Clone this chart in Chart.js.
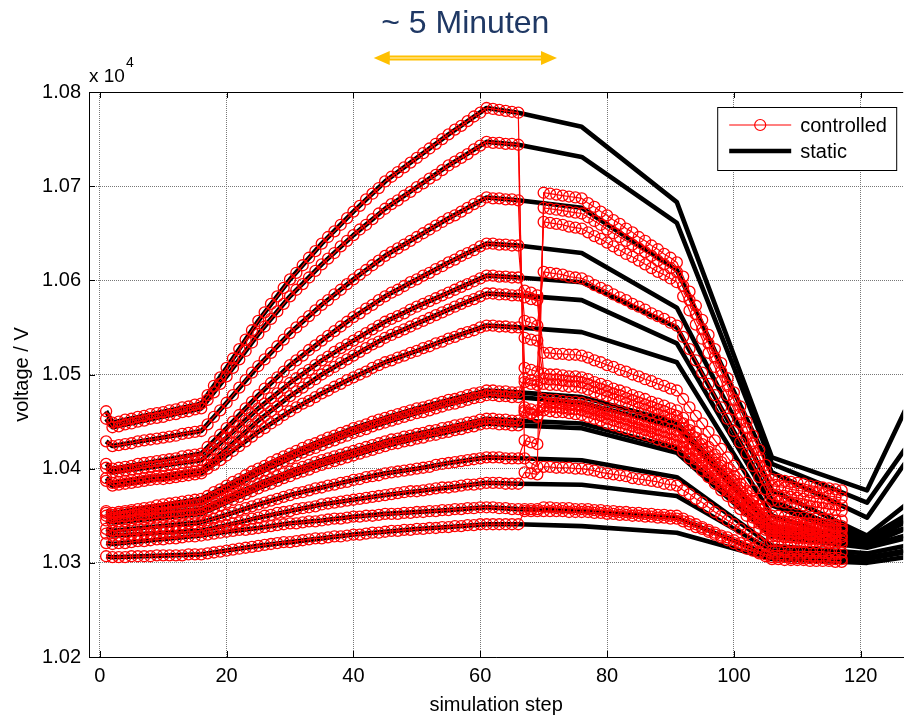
<!DOCTYPE html>
<html>
<head>
<meta charset="utf-8">
<script src="https://cdn.jsdelivr.net/npm/chart.js@4/dist/chart.umd.min.js"></script>
<style>
  body { margin: 0; background: #fff; }
  canvas { display: block; }
</style>
</head>
<body>
<canvas id="chart" width="910" height="716"></canvas>
<script>
// simulation steps where the static profiles change slope
const stepKnots = [1, 2, 16, 20, 25, 30, 35, 40, 45, 50, 55, 61, 66, 76, 91, 106, 121, 127];

// static voltages (V) at stepKnots, one array per node
const static01 = [10461, 10449, 10469, 10507, 10557, 10601, 10639, 10673, 10705, 10730, 10755, 10783, 10778, 10763, 10683, 10412, 10377, 10462];
const static02 = [10453, 10444, 10464, 10498, 10543, 10583, 10617, 10648, 10676, 10699, 10722, 10747, 10744, 10731, 10661, 10405, 10364, 10421];
const static03 = [10429, 10424, 10440, 10470, 10509, 10544, 10574, 10601, 10626, 10646, 10666, 10688, 10685, 10677, 10611, 10396, 10348, 10406];
const static04 = [10405, 10400, 10416, 10443, 10478, 10510, 10536, 10561, 10583, 10601, 10619, 10639, 10637, 10629, 10571, 10377, 10329, 10361];
const static05 = [10401, 10396, 10409, 10433, 10464, 10491, 10515, 10536, 10556, 10572, 10587, 10605, 10603, 10598, 10550, 10366, 10326, 10350];
const static06 = [10390, 10385, 10398, 10421, 10451, 10477, 10500, 10520, 10539, 10554, 10569, 10586, 10584, 10579, 10533, 10361, 10323, 10343];
const static07 = [10387, 10382, 10395, 10414, 10439, 10461, 10480, 10497, 10513, 10525, 10538, 10552, 10550, 10545, 10513, 10350, 10319, 10336];
const static08 = [10355, 10353, 10368, 10382, 10400, 10416, 10430, 10443, 10454, 10464, 10473, 10483, 10481, 10476, 10449, 10339, 10326, 10345];
const static09 = [10353, 10351, 10363, 10377, 10395, 10411, 10425, 10438, 10449, 10459, 10468, 10478, 10476, 10470, 10444, 10336, 10323, 10337];
const static10 = [10350, 10348, 10357, 10369, 10384, 10397, 10409, 10419, 10429, 10437, 10444, 10453, 10451, 10448, 10422, 10331, 10318, 10329];
const static11 = [10345, 10343, 10352, 10364, 10379, 10392, 10404, 10414, 10424, 10432, 10439, 10448, 10446, 10443, 10417, 10328, 10316, 10326];
const static12 = [10336, 10334, 10343, 10351, 10362, 10372, 10380, 10388, 10395, 10400, 10406, 10412, 10411, 10409, 10391, 10318, 10310, 10318];
const static13 = [10331, 10329, 10334, 10340, 10348, 10355, 10362, 10367, 10372, 10376, 10380, 10385, 10384, 10383, 10371, 10313, 10306, 10313];
const static14 = [10321, 10320, 10329, 10333, 10337, 10342, 10345, 10349, 10352, 10354, 10356, 10359, 10357, 10355, 10348, 10307, 10304, 10311];
const static15 = [10307, 10306, 10309, 10313, 10318, 10322, 10326, 10330, 10333, 10336, 10338, 10341, 10341, 10339, 10332, 10304, 10300, 10306];

// controlled voltages (V), one value per simulation step 1..117
const controlled01 = [10461,
  10449, 10450, 10452, 10453, 10455, 10456, 10458, 10459, 10460, 10462, 10463, 10465, 10466, 10468, 10469,
  10478, 10488, 10497, 10507, 10517, 10527, 10537, 10547, 10557, 10566, 10575, 10583, 10592, 10601,
  10608, 10616, 10624, 10631, 10639, 10646, 10652, 10659, 10666, 10673, 10679, 10686, 10692, 10698, 10705,
  10710, 10715, 10720, 10725, 10730, 10735, 10740, 10745, 10750, 10755, 10760, 10764, 10769, 10774, 10778, 10783,
  10782, 10781, 10780, 10779, 10778,
  10411, 10406, 10402,
  10693, 10692, 10691, 10690, 10689, 10688, 10687,
  10682, 10678, 10673, 10669, 10664, 10660, 10655, 10651, 10646, 10642, 10637, 10633, 10628, 10624, 10619,
  10604, 10588, 10573, 10558, 10542, 10527, 10512, 10496, 10481, 10466, 10450, 10435, 10420, 10404, 10389,
  10388, 10387, 10386, 10385, 10384, 10382, 10381, 10380, 10379, 10378, 10377];
const controlled02 = [10453,
  10444, 10445, 10447, 10448, 10450, 10451, 10453, 10454, 10455, 10457, 10458, 10460, 10461, 10463, 10464,
  10473, 10481, 10490, 10498, 10507, 10516, 10525, 10534, 10543, 10551, 10559, 10567, 10575, 10583,
  10590, 10596, 10603, 10610, 10617, 10623, 10629, 10636, 10642, 10648, 10654, 10659, 10665, 10671, 10676,
  10681, 10685, 10690, 10694, 10699, 10703, 10708, 10712, 10717, 10722, 10726, 10730, 10734, 10739, 10743, 10747,
  10746, 10746, 10745, 10745, 10744,
  10462, 10459, 10455,
  10677, 10676, 10675, 10674, 10673, 10672, 10671,
  10667, 10663, 10659, 10654, 10650, 10646, 10642, 10638, 10634, 10630, 10626, 10621, 10617, 10613, 10609,
  10594, 10579, 10564, 10548, 10533, 10518, 10503, 10488, 10473, 10458, 10443, 10427, 10412, 10397, 10382,
  10381, 10380, 10378, 10377, 10376, 10375, 10374, 10373, 10371, 10370, 10369];
const controlled03 = [10429,
  10424, 10425, 10426, 10427, 10429, 10430, 10431, 10432, 10433, 10434, 10435, 10437, 10438, 10439, 10440,
  10447, 10455, 10462, 10470, 10478, 10486, 10494, 10502, 10509, 10516, 10523, 10530, 10537, 10544,
  10550, 10556, 10562, 10568, 10574, 10579, 10585, 10590, 10596, 10601, 10606, 10611, 10616, 10621, 10626,
  10630, 10634, 10638, 10642, 10646, 10650, 10654, 10658, 10662, 10666, 10669, 10673, 10677, 10681, 10684, 10688,
  10687, 10687, 10686, 10686, 10685,
  10507, 10505, 10503,
  10662, 10661, 10660, 10659, 10657, 10656, 10655,
  10651, 10647, 10644, 10640, 10636, 10632, 10628, 10625, 10621, 10617, 10613, 10609, 10606, 10602, 10598,
  10583, 10568, 10553, 10538, 10523, 10508, 10493, 10478, 10463, 10448, 10433, 10418, 10403, 10388, 10373,
  10372, 10371, 10370, 10369, 10368, 10366, 10365, 10364, 10363, 10362, 10361];
const controlled04 = [10405,
  10400, 10401, 10402, 10403, 10405, 10406, 10407, 10408, 10409, 10410, 10411, 10413, 10414, 10415, 10416,
  10423, 10429, 10436, 10443, 10450, 10457, 10464, 10471, 10478, 10485, 10491, 10497, 10503, 10510,
  10515, 10520, 10526, 10531, 10536, 10541, 10546, 10551, 10556, 10561, 10565, 10570, 10574, 10579, 10583,
  10587, 10590, 10594, 10598, 10601, 10605, 10608, 10612, 10615, 10619, 10622, 10626, 10629, 10632, 10636, 10639,
  10639, 10638, 10638, 10637, 10637,
  10557, 10555, 10552,
  10609, 10608, 10607, 10606, 10604, 10603, 10602,
  10599, 10595, 10592, 10589, 10585, 10582, 10579, 10575, 10572, 10569, 10565, 10562, 10559, 10555, 10552,
  10540, 10527, 10515, 10502, 10490, 10478, 10465, 10453, 10440, 10428, 10416, 10403, 10391, 10378, 10366,
  10365, 10364, 10363, 10362, 10361, 10360, 10359, 10358, 10357, 10356, 10355];
const controlled05 = [10401,
  10396, 10397, 10398, 10399, 10400, 10401, 10402, 10403, 10403, 10404, 10405, 10406, 10407, 10408, 10409,
  10415, 10421, 10427, 10433, 10439, 10445, 10451, 10458, 10464, 10469, 10475, 10480, 10486, 10491,
  10496, 10501, 10505, 10510, 10515, 10519, 10524, 10528, 10532, 10536, 10540, 10544, 10548, 10552, 10556,
  10559, 10562, 10565, 10569, 10572, 10575, 10578, 10581, 10584, 10587, 10590, 10593, 10596, 10599, 10602, 10605,
  10605, 10604, 10604, 10603, 10603,
  10589, 10587, 10584,
  10523, 10523, 10522, 10522, 10521, 10521, 10520,
  10518, 10515, 10513, 10510, 10508, 10505, 10503, 10500, 10498, 10495, 10493, 10490, 10488, 10485, 10483,
  10474, 10465, 10456, 10448, 10439, 10430, 10421, 10412, 10403, 10394, 10385, 10377, 10368, 10359, 10350,
  10350, 10349, 10349, 10348, 10348, 10347, 10347, 10346, 10346, 10345, 10345];
const controlled06 = [10390,
  10385, 10386, 10387, 10388, 10389, 10390, 10391, 10392, 10392, 10393, 10394, 10395, 10396, 10397, 10398,
  10404, 10409, 10415, 10421, 10427, 10433, 10439, 10445, 10451, 10456, 10461, 10466, 10472, 10477,
  10482, 10486, 10491, 10495, 10500, 10504, 10508, 10512, 10516, 10520, 10524, 10528, 10532, 10535, 10539,
  10542, 10545, 10548, 10551, 10554, 10557, 10560, 10563, 10566, 10569, 10572, 10575, 10578, 10580, 10583, 10586,
  10586, 10585, 10585, 10584, 10584,
  10582, 10580, 10579,
  10501, 10500, 10500, 10499, 10498, 10498, 10497,
  10495, 10492, 10490, 10488, 10485, 10483, 10481, 10478, 10476, 10474, 10471, 10469, 10467, 10464, 10462,
  10454, 10446, 10439, 10431, 10423, 10415, 10407, 10400, 10392, 10384, 10376, 10368, 10361, 10353, 10345,
  10344, 10344, 10343, 10343, 10342, 10342, 10341, 10341, 10340, 10340, 10339];
const controlled07 = [10387,
  10382, 10383, 10384, 10385, 10386, 10387, 10388, 10389, 10389, 10390, 10391, 10392, 10393, 10394, 10395,
  10400, 10404, 10409, 10414, 10419, 10424, 10429, 10434, 10439, 10443, 10448, 10452, 10457, 10461,
  10465, 10469, 10472, 10476, 10480, 10483, 10487, 10490, 10494, 10497, 10500, 10503, 10507, 10510, 10513,
  10515, 10518, 10520, 10523, 10525, 10528, 10530, 10533, 10535, 10538, 10540, 10543, 10545, 10547, 10550, 10552,
  10552, 10551, 10551, 10550, 10550,
  10539, 10537, 10536,
  10496, 10495, 10495, 10494, 10493, 10493, 10492,
  10490, 10487, 10485, 10482, 10480, 10478, 10475, 10473, 10470, 10468, 10466, 10463, 10461, 10458, 10456,
  10448, 10441, 10433, 10426, 10418, 10410, 10403, 10395, 10388, 10380, 10372, 10365, 10357, 10350, 10342,
  10341, 10341, 10340, 10340, 10339, 10339, 10338, 10338, 10337, 10337, 10336];
const controlled08 = [10355,
  10353, 10354, 10355, 10356, 10357, 10358, 10359, 10361, 10362, 10363, 10364, 10365, 10366, 10367, 10368,
  10371, 10375, 10378, 10382, 10386, 10389, 10393, 10397, 10400, 10403, 10407, 10410, 10413, 10416,
  10419, 10422, 10425, 10427, 10430, 10433, 10435, 10438, 10440, 10443, 10445, 10447, 10450, 10452, 10454,
  10456, 10458, 10460, 10462, 10464, 10465, 10467, 10469, 10471, 10473, 10474, 10476, 10478, 10480, 10481, 10483,
  10483, 10482, 10482, 10481, 10481,
  10496, 10494, 10493,
  10490, 10489, 10489, 10488, 10487, 10487, 10486,
  10484, 10481, 10479, 10477, 10474, 10472, 10470, 10467, 10465, 10463, 10460, 10458, 10456, 10453, 10451,
  10443, 10436, 10428, 10421, 10413, 10406, 10398, 10391, 10383, 10376, 10368, 10361, 10353, 10346, 10338,
  10338, 10337, 10337, 10337, 10336, 10336, 10335, 10335, 10335, 10334, 10334];
const controlled09 = [10353,
  10351, 10352, 10353, 10354, 10354, 10355, 10356, 10357, 10358, 10359, 10360, 10360, 10361, 10362, 10363,
  10366, 10370, 10373, 10377, 10381, 10384, 10388, 10392, 10395, 10398, 10402, 10405, 10408, 10411,
  10414, 10417, 10420, 10422, 10425, 10428, 10430, 10433, 10435, 10438, 10440, 10442, 10445, 10447, 10449,
  10451, 10453, 10455, 10457, 10459, 10460, 10462, 10464, 10466, 10468, 10469, 10471, 10473, 10475, 10476, 10478,
  10478, 10477, 10477, 10476, 10476,
  10492, 10490, 10489,
  10474, 10473, 10473, 10472, 10471, 10471, 10470,
  10468, 10466, 10464, 10462, 10460, 10458, 10456, 10454, 10452, 10450, 10448, 10446, 10444, 10442, 10440,
  10433, 10426, 10419, 10412, 10405, 10398, 10391, 10383, 10376, 10369, 10362, 10355, 10348, 10341, 10334,
  10334, 10333, 10333, 10332, 10332, 10331, 10331, 10330, 10330, 10329, 10329];
const controlled10 = [10350,
  10348, 10349, 10349, 10350, 10351, 10351, 10352, 10353, 10353, 10354, 10354, 10355, 10356, 10356, 10357,
  10360, 10363, 10366, 10369, 10372, 10375, 10378, 10381, 10384, 10387, 10389, 10392, 10395, 10397,
  10400, 10402, 10404, 10407, 10409, 10411, 10413, 10415, 10417, 10419, 10421, 10423, 10425, 10427, 10429,
  10431, 10432, 10434, 10435, 10437, 10438, 10440, 10441, 10443, 10444, 10446, 10447, 10449, 10450, 10452, 10453,
  10453, 10452, 10452, 10451, 10451,
  10465, 10463, 10462,
  10470, 10469, 10469, 10468, 10467, 10467, 10466,
  10464, 10462, 10460, 10458, 10456, 10454, 10452, 10449, 10447, 10445, 10443, 10441, 10439, 10437, 10435,
  10428, 10421, 10414, 10407, 10400, 10393, 10386, 10380, 10373, 10366, 10359, 10352, 10345, 10338, 10331,
  10331, 10330, 10330, 10330, 10329, 10329, 10328, 10328, 10328, 10327, 10327];
const controlled11 = [10345,
  10343, 10344, 10344, 10345, 10346, 10346, 10347, 10348, 10348, 10349, 10349, 10350, 10351, 10351, 10352,
  10355, 10358, 10361, 10364, 10367, 10370, 10373, 10376, 10379, 10382, 10384, 10387, 10390, 10392,
  10395, 10397, 10399, 10402, 10404, 10406, 10408, 10410, 10412, 10414, 10416, 10418, 10420, 10422, 10424,
  10426, 10427, 10429, 10430, 10432, 10433, 10435, 10436, 10438, 10439, 10441, 10442, 10444, 10445, 10447, 10448,
  10448, 10447, 10447, 10446, 10446,
  10460, 10458, 10456,
  10466, 10465, 10465, 10464, 10463, 10463, 10462,
  10460, 10458, 10456, 10453, 10451, 10449, 10447, 10445, 10443, 10441, 10439, 10436, 10434, 10432, 10430,
  10423, 10416, 10410, 10403, 10396, 10389, 10382, 10376, 10369, 10362, 10355, 10348, 10342, 10335, 10328,
  10328, 10327, 10327, 10326, 10326, 10325, 10325, 10324, 10324, 10323, 10323];
const controlled12 = [10336,
  10334, 10335, 10335, 10336, 10337, 10337, 10338, 10339, 10339, 10340, 10340, 10341, 10342, 10342, 10343,
  10345, 10347, 10349, 10351, 10353, 10356, 10358, 10360, 10362, 10364, 10366, 10368, 10370, 10372,
  10374, 10375, 10377, 10379, 10380, 10382, 10383, 10385, 10386, 10388, 10389, 10391, 10392, 10393, 10395,
  10396, 10397, 10398, 10399, 10400, 10401, 10402, 10404, 10405, 10406, 10407, 10408, 10409, 10410, 10411, 10412,
  10412, 10412, 10411, 10411, 10411,
  10430, 10428, 10426,
  10462, 10461, 10460, 10460, 10459, 10458, 10457,
  10455, 10453, 10451, 10448, 10446, 10444, 10442, 10440, 10438, 10436, 10434, 10431, 10429, 10427, 10425,
  10418, 10411, 10405, 10398, 10391, 10384, 10377, 10371, 10364, 10357, 10350, 10343, 10337, 10330, 10323,
  10323, 10322, 10322, 10322, 10322, 10321, 10321, 10321, 10321, 10320, 10320];
const controlled13 = [10331,
  10329, 10329, 10330, 10330, 10330, 10331, 10331, 10332, 10332, 10332, 10333, 10333, 10333, 10334, 10334,
  10336, 10337, 10339, 10340, 10342, 10343, 10345, 10347, 10348, 10350, 10351, 10353, 10354, 10355,
  10357, 10358, 10359, 10360, 10362, 10363, 10364, 10365, 10366, 10367, 10368, 10369, 10370, 10371, 10372,
  10373, 10374, 10375, 10376, 10376, 10377, 10378, 10379, 10380, 10380, 10381, 10382, 10383, 10383, 10384, 10385,
  10385, 10385, 10384, 10384, 10384,
  10396, 10395, 10394,
  10402, 10402, 10401, 10401, 10401, 10400, 10400,
  10399, 10398, 10396, 10395, 10394, 10393, 10392, 10390, 10389, 10388, 10387, 10386, 10384, 10383, 10382,
  10377, 10373, 10368, 10364, 10359, 10354, 10350, 10345, 10341, 10336, 10331, 10327, 10322, 10318, 10313,
  10313, 10313, 10312, 10312, 10312, 10312, 10312, 10312, 10311, 10311, 10311];
const controlled14 = [10321,
  10320, 10321, 10321, 10322, 10323, 10323, 10324, 10325, 10325, 10326, 10326, 10327, 10328, 10328, 10329,
  10330, 10331, 10332, 10333, 10334, 10335, 10335, 10336, 10337, 10338, 10339, 10340, 10341, 10342,
  10342, 10343, 10344, 10344, 10345, 10346, 10347, 10347, 10348, 10349, 10349, 10350, 10350, 10351, 10352,
  10352, 10352, 10353, 10353, 10354, 10354, 10355, 10355, 10356, 10356, 10357, 10357, 10358, 10358, 10359, 10359,
  10359, 10358, 10358, 10357, 10357,
  10357, 10357, 10357,
  10359, 10359, 10358, 10358, 10358, 10357, 10357,
  10357, 10356, 10356, 10355, 10355, 10354, 10354, 10353, 10353, 10352, 10352, 10351, 10351, 10350, 10350,
  10347, 10344, 10341, 10338, 10335, 10332, 10329, 10327, 10324, 10321, 10318, 10315, 10312, 10309, 10306,
  10306, 10306, 10305, 10305, 10305, 10305, 10305, 10305, 10304, 10304, 10304];
const controlled15 = [10307,
  10306, 10306, 10306, 10307, 10307, 10307, 10307, 10308, 10308, 10308, 10308, 10308, 10309, 10309, 10309,
  10310, 10311, 10312, 10313, 10314, 10315, 10316, 10317, 10318, 10319, 10320, 10321, 10322, 10322,
  10323, 10324, 10325, 10326, 10326, 10327, 10328, 10328, 10329, 10330, 10330, 10331, 10332, 10332, 10333,
  10334, 10334, 10335, 10335, 10336, 10336, 10337, 10337, 10338, 10338, 10339, 10339, 10340, 10340, 10341, 10341,
  10341, 10341, 10341, 10341, 10341,
  10355, 10355, 10355,
  10355, 10355, 10355, 10355, 10354, 10354, 10354,
  10354, 10353, 10353, 10352, 10352, 10351, 10351, 10350, 10350, 10349, 10349, 10348, 10348, 10347, 10347,
  10344, 10341, 10338, 10336, 10333, 10330, 10327, 10324, 10321, 10318, 10315, 10313, 10310, 10307, 10304,
  10304, 10303, 10303, 10303, 10303, 10302, 10302, 10302, 10302, 10301, 10301];

const xTicks = [0, 20, 40, 60, 80, 100, 120];
const voltageTicks = [10200, 10300, 10400, 10500, 10600, 10700, 10800];
const annotationText = '~ 5 Minuten';
const annotationSpan = [43.2, 72.1];   // simulation steps covered by the arrow

const staticSeries = [static01, static02, static03, static04, static05, static06, static07, static08,
  static09, static10, static11, static12, static13, static14, static15];
const controlledSeries = [controlled01, controlled02, controlled03, controlled04, controlled05,
  controlled06, controlled07, controlled08, controlled09, controlled10, controlled11, controlled12,
  controlled13, controlled14, controlled15];
const controlledSteps = Array.from({ length: 117 }, (_, i) => i + 1);

const FONT = 'Liberation Sans, Arial, sans-serif';

const datasets = [];
controlledSeries.forEach(vals => {
  datasets.push({
    label: 'controlled',
    data: vals.map((v, i) => ({ x: controlledSteps[i], y: v })),
    borderColor: '#ff0000',
    borderWidth: 1.2,
    pointRadius: 5.5,
    pointBorderWidth: 1.3,
    pointBorderColor: '#ff0000',
    pointBackgroundColor: 'rgba(0,0,0,0)',
    order: 0
  });
});
staticSeries.forEach(vals => {
  datasets.push({
    label: 'static',
    data: vals.map((v, i) => ({ x: stepKnots[i], y: v })),
    borderColor: '#000',
    borderWidth: 4.6,
    borderJoinStyle: 'round',
    pointRadius: 0,
    order: 1
  });
});

// box, inner ticks, exponent, legend and the "~ 5 Minuten" annotation
const decorations = {
  id: 'decorations',
  afterDraw(chart) {
    const { ctx, chartArea: a, scales: { x, y } } = chart;
    ctx.save();

    ctx.strokeStyle = '#000';
    ctx.lineWidth = 1;
    ctx.beginPath();
    ctx.moveTo(a.left, a.top + 0.5);
    ctx.lineTo(a.right, a.top + 0.5);
    xTicks.forEach(v => {
      const px = Math.round(x.getPixelForValue(v)) + 0.5;
      ctx.moveTo(px, a.bottom); ctx.lineTo(px, a.bottom - 6);
      ctx.moveTo(px, a.top); ctx.lineTo(px, a.top + 6);
    });
    voltageTicks.forEach(v => {
      const py = Math.round(y.getPixelForValue(v)) + 0.5;
      ctx.moveTo(a.left, py); ctx.lineTo(a.left + 6, py);
    });
    ctx.stroke();

    // x 10^4
    ctx.fillStyle = '#000';
    ctx.textBaseline = 'alphabetic';
    ctx.textAlign = 'left';
    ctx.font = '19px ' + FONT;
    ctx.fillText('x 10', a.left, a.top - 10);
    const w = ctx.measureText('x 10').width;
    ctx.font = '14px ' + FONT;
    ctx.fillText('4', a.left + w + 1, a.top - 25);

    // legend
    const bx = a.right - 186, by = a.top + 15, bw = 179, bh = 63;
    ctx.fillStyle = '#fff';
    ctx.fillRect(bx, by, bw, bh);
    ctx.strokeStyle = '#000';
    ctx.lineWidth = 1;
    ctx.strokeRect(bx + 0.5, by + 0.5, bw, bh);
    const y1 = by + 18, y2 = by + 44;
    ctx.strokeStyle = '#ff0000';
    ctx.lineWidth = 1.2;
    ctx.beginPath();
    ctx.moveTo(bx + 12, y1); ctx.lineTo(bx + 74, y1);
    ctx.stroke();
    ctx.beginPath();
    ctx.arc(bx + 43, y1, 5.5, 0, Math.PI * 2);
    ctx.stroke();
    ctx.strokeStyle = '#000';
    ctx.lineWidth = 4.6;
    ctx.beginPath();
    ctx.moveTo(bx + 12, y2); ctx.lineTo(bx + 74, y2);
    ctx.stroke();
    ctx.fillStyle = '#000';
    ctx.font = '20px ' + FONT;
    ctx.textBaseline = 'middle';
    ctx.fillText('controlled', bx + 83, y1 + 1);
    ctx.fillText('static', bx + 83, y2 + 1);

    // annotation arrow
    const xa = x.getPixelForValue(annotationSpan[0]);
    const xb = x.getPixelForValue(annotationSpan[1]);
    const ya = 58, head = 16, half = 7;
    ctx.strokeStyle = '#ffc000';
    ctx.lineWidth = 5;
    ctx.beginPath();
    ctx.moveTo(xa + head - 2, ya); ctx.lineTo(xb - head + 2, ya);
    ctx.stroke();
    ctx.strokeStyle = '#ffe38a';
    ctx.lineWidth = 1.5;
    ctx.beginPath();
    ctx.moveTo(xa + head, ya); ctx.lineTo(xb - head, ya);
    ctx.stroke();
    ctx.fillStyle = '#ffc000';
    ctx.beginPath();
    ctx.moveTo(xa, ya); ctx.lineTo(xa + head, ya - half); ctx.lineTo(xa + head, ya + half); ctx.closePath();
    ctx.moveTo(xb, ya); ctx.lineTo(xb - head, ya - half); ctx.lineTo(xb - head, ya + half); ctx.closePath();
    ctx.fill();

    ctx.fillStyle = '#1f3864';
    ctx.font = '32px ' + FONT;
    ctx.textAlign = 'center';
    ctx.textBaseline = 'alphabetic';
    ctx.fillText(annotationText, (xa + xb) / 2, 33);

    ctx.restore();
  }
};

new Chart(document.getElementById('chart'), {
  type: 'line',
  data: { datasets },
  options: {
    responsive: false,
    animation: false,
    devicePixelRatio: 1,
    events: [],
    layout: { padding: { top: 92, right: 0, bottom: 0, left: 0 } },
    plugins: { legend: { display: false }, tooltip: { enabled: false } },
    scales: {
      x: {
        type: 'linear',
        min: -1.7,
        max: 126.7,
        afterBuildTicks: scale => { scale.ticks = xTicks.map(v => ({ value: v })); },
        afterFit: scale => { scale.height = 59; },
        ticks: { color: '#000', font: { family: FONT, size: 20 }, padding: 7, maxRotation: 0 },
        grid: { color: '#777', drawTicks: false },
        border: { color: '#000', width: 1, dash: [1, 1] },
        title: {
          display: true, text: 'simulation step', color: '#000',
          font: { family: FONT, size: 20, lineHeight: 1 }, padding: { top: 0, bottom: 1 }
        }
      },
      y: {
        min: 10200,
        max: 10800,
        afterBuildTicks: scale => { scale.ticks = voltageTicks.map(v => ({ value: v })); },
        afterFit: scale => { scale.width = 89; },
        ticks: { color: '#000', font: { family: FONT, size: 20 }, padding: 8, callback: v => (v / 1e4).toFixed(2) },
        grid: { color: '#777', drawTicks: false },
        border: { color: '#000', width: 1, dash: [1, 1] },
        title: {
          display: true, text: 'voltage / V', color: '#000',
          font: { family: FONT, size: 20 }, padding: { top: 10, bottom: 0 }
        }
      }
    }
  },
  plugins: [decorations]
});
</script>
</body>
</html>
